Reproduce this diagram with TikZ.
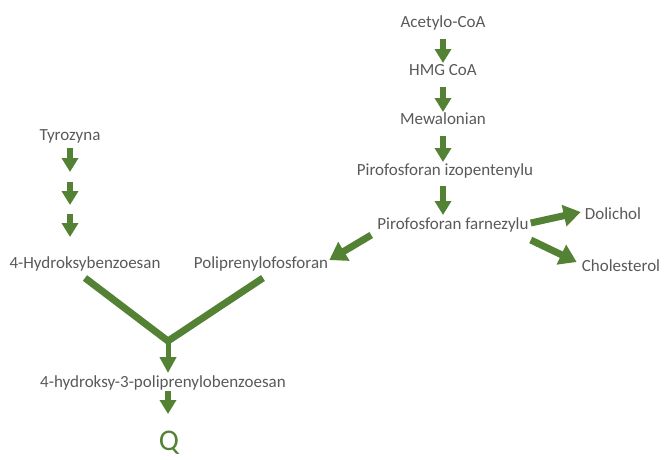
\documentclass[tikz,border=0pt]{standalone}
\usepackage{fontspec}
\setmainfont{Carlito}
\usetikzlibrary{arrows.meta,calc}
\definecolor{pgreen}{HTML}{548235}
\definecolor{ptext}{HTML}{595959}
\begin{document}
\begin{tikzpicture}[x=1pt,y=-1pt,
  lbl/.style={text=ptext,font=\fontsize{17}{19}\selectfont,inner sep=0pt,anchor=base},
  varrow/.style={draw=pgreen,line width=6pt,-{Triangle[width=16pt,length=14pt]}},
  darrow/.style={draw=pgreen,line width=7pt,-{Triangle[width=21pt,length=17pt]}},
  yline/.style={draw=pgreen,line width=7pt,line join=miter}]
\useasboundingbox (0,0) rectangle (664,459);
\node[lbl] (acet) at (443,27) {Acetylo-CoA};
\node[lbl] (hmg) at (443,75) {HMG CoA};
\node[lbl] (mew) at (443,124) {Mewalonian};
\node[lbl] (ipp) at (445,175) {Pirofosforan izopentenylu};
\node[lbl] (fpp) at (453,229) {Pirofosforan farnezylu};
\node[lbl] (dol) at (613,219) {Dolichol};
\node[lbl] (chol) at (621,271) {Cholesterol};
\node[lbl] (tyr) at (70,140) {Tyrozyna};
\node[lbl] (hb) at (85,268) {4-Hydroksybenzoesan};
\node[lbl] (pp) at (261,268) {Poliprenylofosforan};
\node[lbl] (hpb) at (163,387) {4-hydroksy-3-poliprenylobenzoesan};
\node[text=pgreen,font=\fontsize{30}{32}\selectfont,inner sep=0pt,anchor=base] (q) at (169,450) {Q};
% main column arrows
\draw[varrow] ($(acet.base)+(0,12)$) -- ($(acet.base |- hmg.base)+(0,-12)$);
\draw[varrow] ($(acet.base |- hmg.base)+(0,12)$) -- ($(acet.base |- mew.base)+(0,-12)$);
\draw[varrow] ($(acet.base |- mew.base)+(0,12)$) -- ($(acet.base |- ipp.base)+(0,-13)$);
\draw[varrow] ($(acet.base |- ipp.base)+(0,11)$) -- ($(acet.base |- fpp.base)+(0,-14)$);
% tyrosine column
\coordinate (t2) at (70,182);
\coordinate (t3) at (70,214);
\draw[varrow] ($(tyr.base)+(0,8)$) -- ($(tyr.base)+(0,32)$);
\draw[varrow] (t2) -- ($(t2)+(0,23)$);
\draw[varrow] (t3) -- ($(t3)+(0,23)$);
% farnesyl branches
\draw[darrow] ($(fpp.base west)+(-6,6)$) -- ($(pp.base east)+(1,-8)$);
\draw[darrow] ($(fpp.base east)+(2,-6)$) -- ($(dol.base west)+(-4,-7)$);
\draw[darrow] ($(fpp.base east)+(2,11)$) -- ($(chol.base west)+(-5,-9)$);
% merge
\coordinate (y) at (168,341);
\draw[yline] ($(hb.base)+(0,10)$) -- (y) -- ($(pp.base)+(2,10)$);
\draw[varrow,line width=5pt,-{Triangle[width=16pt,length=16pt]}] (y) -- ($(y |- hpb.base)+(0,-14)$);
\draw[varrow] ($(y |- hpb.base)+(0,4)$) -- ($(y |- q.base)+(0,-36)$);
\end{tikzpicture}
\end{document}
